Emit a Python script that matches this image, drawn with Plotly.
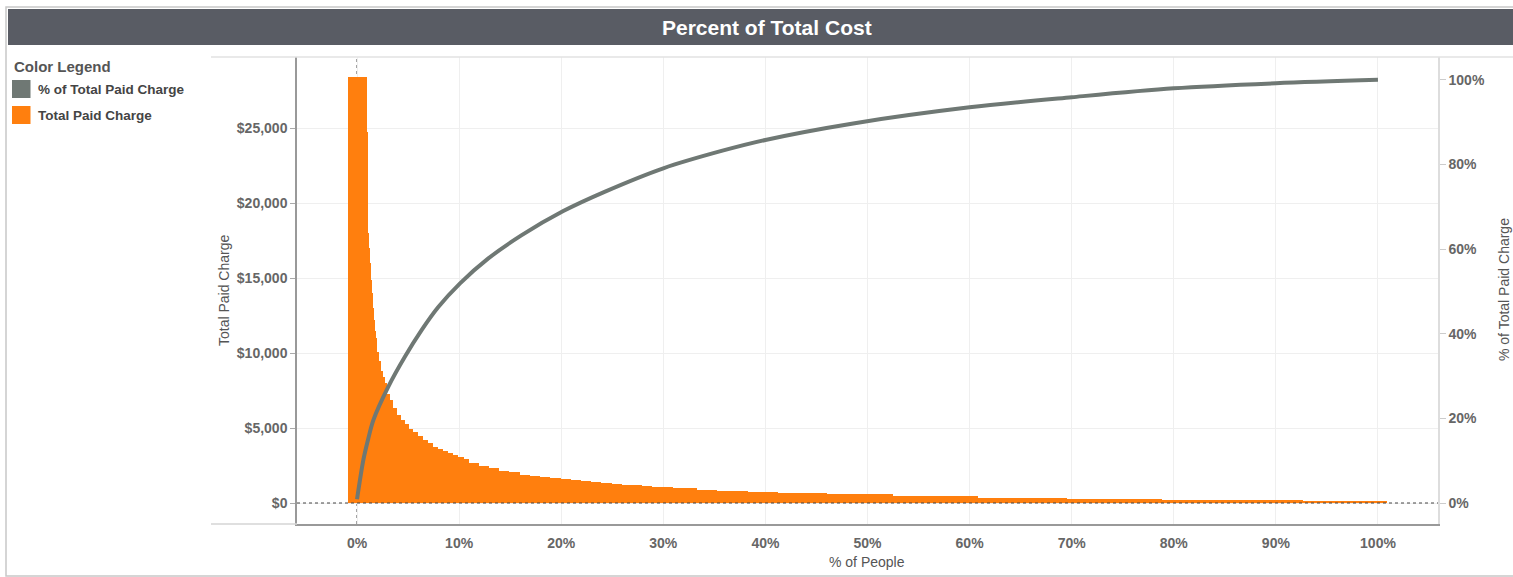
import plotly.graph_objects as go

# Each person's position in the ranking (% of people) and their total paid charge
people_pct = [
    0, 0.1, 0.2, 0.3, 0.4, 0.5, 0.6, 0.7, 0.8, 0.9,
    1.0, 1.2, 1.4, 1.6, 1.8, 2.0, 2.3, 2.6, 3.0, 3.4,
    3.8, 4.2, 4.6, 5.0, 5.5, 6.0, 6.5, 7.0, 7.5, 8.0,
    8.5, 9.0, 9.5, 10, 11, 12, 13, 14, 15, 16,
    17, 18, 19, 20, 21, 22, 23, 24, 25, 26,
    27, 28, 29, 30, 31, 32, 32.4, 33.4, 34.3, 35.3,
    36.4, 37.4, 38.4, 39.4, 40.3, 41.2, 42.2, 43.2, 44.2, 45.1,
    46, 47, 48, 49, 50, 51, 51.6, 52.5, 53.5, 54.5,
    55.5, 56.5, 57.5, 58.5, 59.9, 60.8, 61.8, 62.8, 63.8, 64.8,
    65.8, 66.8, 67.8, 68.6, 69.5, 70.5, 71.5, 72.5, 73.5, 74.5,
    75.5, 76.5, 77.5, 77.9, 78.8, 79.8, 80.8, 81.8, 82.8, 83.8,
    84.8, 85.8, 86.8, 87.8, 88.8, 89.8, 90.8, 91.7, 92.6, 93.6,
    94.6, 95.6, 96.6, 97.3, 98.2, 99.1, 100,
]
paid_charge = [
    28400, 24750, 18000, 17000, 16000, 14900, 14000, 13000, 12200, 11500,
    11000, 10100, 9500, 8800, 8400, 8000, 7300, 6900, 6350, 5850,
    5550, 5250, 4950, 4720, 4500, 4200, 3980, 3750, 3600, 3470,
    3330, 3200, 3050, 2950, 2700, 2500, 2320, 2160, 2050, 1900,
    1820, 1730, 1660, 1600, 1530, 1470, 1400, 1330, 1270, 1220,
    1180, 1130, 1080, 1050, 1020, 1000, 1000, 890, 890, 800,
    800, 800, 730, 730, 730, 670, 670, 670, 670, 670,
    570, 570, 570, 570, 570, 570, 570, 460, 460, 460,
    460, 460, 460, 460, 460, 350, 350, 350, 350, 350,
    350, 350, 350, 350, 270, 270, 270, 270, 270, 270,
    270, 270, 270, 270, 170, 170, 170, 170, 170, 170,
    170, 170, 170, 170, 170, 170, 170, 170, 110, 110,
    110, 110, 110, 110, 80, 80, 80,
]

# Running share of the total paid charge (%)
cum_people_pct = [0, 0.62, 1.1, 1.6, 3.07, 4.7, 6.34, 7.96, 10.09, 12.86, 16.13,
                  20.2, 24.3, 30.0, 35.7, 40.0, 48.6, 60.0, 70.0, 80.0, 90.0, 100.0]
cum_share_pct = [0.9, 10.2, 15.2, 19.6, 27.5, 34.6, 40.9, 46.3, 51.9, 57.8, 63.3,
                 69.0, 73.6, 79.1, 83.2, 85.8, 89.7, 93.5, 95.9, 98.0, 99.2, 100.0]

x_ticks = list(range(0, 101, 10))
charge_ticks = list(range(0, 25001, 5000))
share_ticks = list(range(0, 101, 20))

ORANGE = "#ff7f0e"
GREY_LINE = "#6f7874"
FONT = "Liberation Sans, Arial, sans-serif"

W, H = 1513, 577
L, R, T, B = 297, 1438, 57, 524


def xp(px):
    return (px - L) / (R - L)


def yp(py):
    return (B - py) / (B - T)


fig = go.Figure()

fig.add_trace(go.Bar(
    x=people_pct, y=paid_charge, width=1.86,
    marker=dict(color=ORANGE, line=dict(width=0)),
    name="Total Paid Charge", showlegend=False,
))

fig.add_trace(go.Scatter(
    x=cum_people_pct, y=cum_share_pct, yaxis="y2", mode="lines",
    line=dict(color=GREY_LINE, width=4, shape="spline", smoothing=0.9),
    name="% of Total Paid Charge", showlegend=False,
))

shapes = [
    # outer frame
    dict(type="rect", xref="paper", yref="paper", x0=xp(6), x1=xp(1530), y0=yp(7), y1=yp(576),
         line=dict(color="#c8c8c8", width=1.5), fillcolor="rgba(0,0,0,0)", layer="below"),
    # title band
    dict(type="rect", xref="paper", yref="paper", x0=xp(8), x1=xp(1530), y0=yp(9), y1=yp(45),
         line=dict(width=0), fillcolor="#595c64", layer="above"),
    # pane top rule
    dict(type="line", xref="paper", yref="paper", x0=xp(211), x1=xp(1530), y0=1, y1=1,
         line=dict(color="#e2e2e2", width=1.5)),
    # pane bottom rule under the axis labels column
    dict(type="line", xref="paper", yref="paper", x0=xp(211), x1=0, y0=0, y1=0,
         line=dict(color="#d4d4d4", width=1.5)),
    # dotted zero reference lines
    dict(type="line", xref="x", yref="paper", x0=0, x1=0, y0=0, y1=1,
         line=dict(color="#444444", width=1, dash="dot"), layer="below"),
    dict(type="line", xref="paper", yref="y", x0=0, x1=1, y0=0, y1=0,
         line=dict(color="#444444", width=1, dash="dot"), layer="above"),
    # legend swatches
    dict(type="rect", xref="paper", yref="paper", x0=xp(12), x1=xp(30.5), y0=yp(80), y1=yp(98),
         line=dict(width=0), fillcolor=GREY_LINE),
    dict(type="rect", xref="paper", yref="paper", x0=xp(12), x1=xp(30.5), y0=yp(106), y1=yp(124),
         line=dict(width=0), fillcolor=ORANGE),
]

annotations = [
    dict(text="<b>Percent of Total Cost</b>", xref="paper", yref="paper", x=xp(767), y=yp(28),
         xanchor="center", yanchor="middle", showarrow=False,
         font=dict(family=FONT, size=21, color="#ffffff")),
    dict(text="<b>Color Legend</b>", xref="paper", yref="paper", x=xp(12), y=yp(66),
         xanchor="left", yanchor="middle", showarrow=False,
         font=dict(family=FONT, size=15, color="#555555")),
    dict(text="<b>% of Total Paid Charge</b>", xref="paper", yref="paper", x=xp(36), y=yp(89.5),
         xanchor="left", yanchor="middle", showarrow=False,
         font=dict(family=FONT, size=13.5, color="#444444")),
    dict(text="<b>Total Paid Charge</b>", xref="paper", yref="paper", x=xp(36), y=yp(115.5),
         xanchor="left", yanchor="middle", showarrow=False,
         font=dict(family=FONT, size=13.5, color="#444444")),
    dict(text="Total Paid Charge", xref="paper", yref="paper", x=xp(224), y=yp(290),
         xanchor="center", yanchor="middle", textangle=-90, showarrow=False,
         font=dict(family=FONT, size=14, color="#555555")),
    dict(text="% of Total Paid Charge", xref="paper", yref="paper", x=xp(1504), y=yp(290),
         xanchor="center", yanchor="middle", textangle=-90, showarrow=False,
         font=dict(family=FONT, size=14, color="#555555")),
    dict(text="% of People", xref="paper", yref="paper", x=xp(867), y=yp(562),
         xanchor="center", yanchor="middle", showarrow=False,
         font=dict(family=FONT, size=14, color="#555555")),
]

tick_font = dict(family=FONT, size=14, color="#666666", weight="bold")

fig.update_layout(
    width=W, height=H, autosize=False,
    margin=dict(l=L, r=W - R, t=T, b=H - B, pad=0),
    paper_bgcolor="#ffffff", plot_bgcolor="#ffffff",
    barmode="overlay", bargap=0,
    showlegend=False,
    shapes=shapes, annotations=annotations,
    xaxis=dict(
        range=[-5.88, 105.88], tickvals=x_ticks, ticktext=[f"{v}%" for v in x_ticks],
        showgrid=True, gridcolor="#efefef", gridwidth=1, zeroline=False,
        showline=True, linecolor="#999999", linewidth=1.5,
        ticks="outside", ticklen=5, tickcolor="rgba(0,0,0,0)",
        tickfont=tick_font,
    ),
    yaxis=dict(
        range=[-1400, 29733], tickvals=charge_ticks,
        ticktext=[f"${v:,}" for v in charge_ticks],
        showgrid=True, gridcolor="#efefef", gridwidth=1, zeroline=False,
        showline=True, linecolor="#999999", linewidth=1.5,
        ticks="outside", ticklen=5, tickcolor="#aaaaaa",
        tickfont=tick_font,
    ),
    yaxis2=dict(
        overlaying="y", side="right",
        range=[-4.96, 105.4], tickvals=share_ticks,
        ticktext=[f"{v}%" for v in share_ticks],
        showgrid=False, zeroline=False,
        showline=True, linecolor="#dddddd", linewidth=1.5,
        ticks="outside", ticklen=6, tickcolor="#cccccc",
        tickfont=tick_font,
    ),
)

fig.write_html("out.html")
